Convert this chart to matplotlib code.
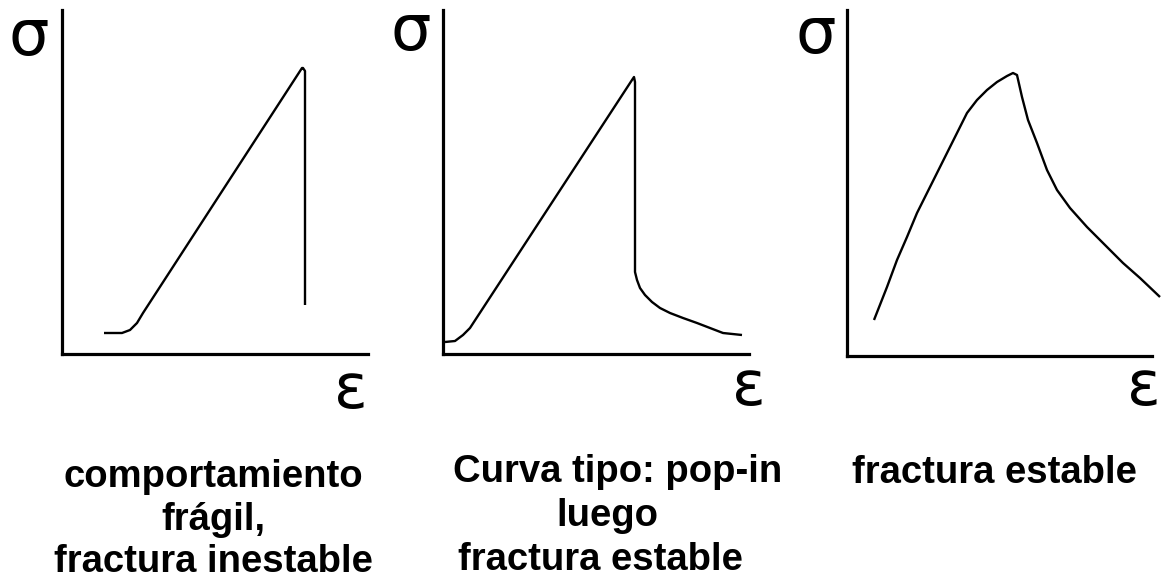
import matplotlib
matplotlib.use("Agg")
import matplotlib.pyplot as plt

W, H = 1162, 583

# Curve data (strain, stress) in arbitrary units
brittle_strain = [42, 60, 68, 75, 81, 240, 241, 243, 243]
brittle_stress = [21, 21, 24, 31, 41, 286, 286, 283, 49]

popin_strain = [2, 12, 20, 27, 189, 191, 192, 192, 194, 197, 202, 209, 217,
                227, 240, 254, 267, 280, 299]
popin_stress = [12, 13, 19, 26, 274, 277, 272, 82, 74, 66, 59, 52, 46,
                41, 36, 31, 26, 21, 19]

stable_strain = [27, 40, 50, 60, 70, 80, 90, 100, 110, 120, 130, 140, 150,
                 160, 166, 170, 175, 181, 190, 200, 210, 223, 240, 256, 276,
                 293, 313]
stable_stress = [36, 69, 96, 119, 143, 163, 183, 203, 223, 243, 256, 266, 274,
                 280, 283, 281, 259, 236, 213, 186, 166, 148, 129, 113, 93,
                 78, 59]

captions = [
    ["comportamiento", "frágil,", "fractura inestable"],
    ["Curva tipo: pop-in", "luego", "fractura estable"],
    ["fractura estable"],
]

fig = plt.figure(figsize=(W / 100, H / 100), dpi=100)
fig.patch.set_facecolor("white")

# axes boxes in pixels: (x0, y_bottom, width, height)
boxes = [(62, 354, 306, 344), (443, 354, 306, 344), (847, 356, 305, 346)]
curves = [(brittle_strain, brittle_stress), (popin_strain, popin_stress),
          (stable_strain, stable_stress)]

for (x0, yb, w, h), (xs, ys) in zip(boxes, curves):
    ax = fig.add_axes([x0 / W, 1 - yb / H, w / W, h / H])
    ax.set_xlim(0, w)
    ax.set_ylim(0, h)
    ax.plot(xs, ys, color="black", lw=1.7, clip_on=False,
            solid_joinstyle="round", solid_capstyle="butt")
    for s in ["top", "right"]:
        ax.spines[s].set_visible(False)
    for s in ["left", "bottom"]:
        ax.spines[s].set_linewidth(2.3)
        ax.spines[s].set_color("black")
    ax.set_xticks([])
    ax.set_yticks([])
    ax.patch.set_alpha(0)

# sigma / epsilon labels (baseline positions in pixels)
for x, y in [(29, 55), (411, 50), (816, 53)]:
    fig.text(x / W, 1 - y / H, "σ", fontsize=46, ha="center", va="baseline",
             family="DejaVu Sans")
for x, y, ha in [(351, 408, "center"), (749, 405, "center"),
                 (1161, 405, "right")]:
    fig.text(x / W, 1 - y / H, "ε", fontsize=45, ha=ha, va="baseline",
             family="DejaVu Sans")

# captions (baseline positions in pixels)
cap_font = dict(fontsize=27.5, fontweight="bold", family="Liberation Sans",
                va="baseline")
p1_y = [487, 530, 572]
for i, line in enumerate(captions[0]):
    fig.text(213 / W, 1 - p1_y[i] / H, line, ha="center", **cap_font)
p2 = [(453, 482), (556, 526), (458, 570)]
for (x, y), line in zip(p2, captions[1]):
    fig.text(x / W, 1 - y / H, line, ha="left", **cap_font)
fig.text(852 / W, 1 - 483 / H, captions[2][0], ha="left", **cap_font)

fig.savefig("out.png", dpi=100, facecolor="white")
